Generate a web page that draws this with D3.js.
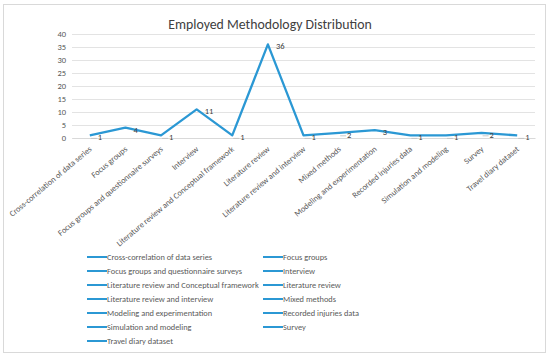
<!DOCTYPE html>
<html>
<head>
<meta charset="utf-8">
<script src="https://cdn.jsdelivr.net/npm/d3@7"></script>
<style>
  body { margin: 0; background: #fff; }
  svg { font-family: Calibri, Carlito, "Open Sans", sans-serif; }
</style>
</head>
<body>
<div id="chart"></div>
<script>
// Data
const methods = [
  "Cross-correlation of data series",
  "Focus groups",
  "Focus groups and questionnaire surveys",
  "Interview",
  "Literature review and Conceptual framework",
  "Literature review",
  "Literature review and interview",
  "Mixed methods",
  "Modeling and experimentation",
  "Recorded injuries data",
  "Simulation and modeling",
  "Survey",
  "Travel diary dataset"
];
const counts = [1, 4, 1, 11, 1, 36, 1, 2, 3, 1, 1, 2, 1];
const yTicks = [0, 5, 10, 15, 20, 25, 30, 35, 40];

const W = 550, H = 357;
const lineColor = "#2b98d4";
const textColor = "#595959";

const svg = d3.select("#chart").append("svg")
  .attr("width", W).attr("height", H);

// font size that makes the longest label about `target` px wide
function fitSize(str, target) {
  const t = svg.append("text").attr("font-size", 10).text(str);
  const len = t.node().getComputedTextLength();
  t.remove();
  return 10 * target / len;
}
const longest = methods.reduce((a, b) => a.length > b.length ? a : b);
const labelSize = fitSize(longest, 151);

// outer frame
svg.append("rect")
  .attr("x", 3.5).attr("y", 4.5).attr("width", 542).attr("height", 348)
  .attr("fill", "#fff").attr("stroke", "#d9d9d9");

// title
svg.append("text")
  .attr("x", 270).attr("y", 29)
  .attr("text-anchor", "middle")
  .attr("font-size", 13.8)
  .attr("fill", "#404040")
  .text("Employed Methodology Distribution");

// scales
const x = d3.scalePoint().domain(methods).range([72, 535]).padding(0.5);
const y = d3.scaleLinear().domain([0, 40]).range([138, 34]);

// gridlines
svg.append("g")
  .selectAll("line")
  .data(yTicks)
  .join("line")
  .attr("x1", 72).attr("x2", 535)
  .attr("y1", d => y(d) + 0.5).attr("y2", d => y(d) + 0.5)
  .attr("stroke", "#e3e3e3");

// y axis
const yAxis = svg.append("g")
  .attr("transform", "translate(72,0)")
  .call(d3.axisLeft(y).tickValues(yTicks).tickSize(0).tickPadding(6));
yAxis.select(".domain").remove();
yAxis.selectAll("text")
  .attr("font-size", 8.5)
  .attr("fill", textColor)
  .attr("font-family", "Calibri, Carlito, 'Open Sans', sans-serif");

// x axis
const xAxis = svg.append("g")
  .attr("transform", "translate(0,138)")
  .call(d3.axisBottom(x).tickSize(0).tickPadding(0));
xAxis.select(".domain").attr("stroke", "#d9d9d9");
xAxis.selectAll("text")
  .attr("font-size", labelSize)
  .attr("fill", textColor)
  .attr("font-family", "Calibri, Carlito, 'Open Sans', sans-serif")
  .style("text-anchor", "end")
  .attr("dy", 0)
  .attr("transform", "translate(2,12) rotate(-40)");

// line
const line = d3.line()
  .x((d, i) => x(methods[i]))
  .y(d => y(d));
svg.append("path")
  .datum(counts)
  .attr("d", line)
  .attr("fill", "none")
  .attr("stroke", lineColor)
  .attr("stroke-width", 2.3)
  .attr("stroke-linejoin", "round");

// leader lines for the small labels
svg.append("g")
  .selectAll("path")
  .data(counts)
  .join("path")
  .attr("d", (d, i) => {
    const px = x(methods[i]), py = y(d);
    return `M${px + 1},${py + 3}L${px + 7},${py + 3}`;
  })
  .attr("stroke", "#bfbfbf")
  .attr("stroke-width", 0.8)
  .attr("fill", "none")
  .attr("opacity", d => (d === 1 || d === 2) ? 1 : 0);

// data labels
svg.append("g")
  .selectAll("text")
  .data(counts)
  .join("text")
  .attr("x", (d, i) => x(methods[i]) + 8)
  .attr("y", d => y(d) + 5)
  .attr("font-size", 8.5)
  .attr("fill", "#404040")
  .text(d => d);

// legend
const legendX = [87, 263];
const legendY0 = 257, legendStep = 14;
const legend = svg.append("g")
  .selectAll("g")
  .data(methods)
  .join("g")
  .attr("transform", (d, i) =>
    `translate(${legendX[i % 2]},${legendY0 + Math.floor(i / 2) * legendStep})`);
legend.append("line")
  .attr("x1", 0).attr("x2", 20)
  .attr("y1", 0).attr("y2", 0)
  .attr("stroke", lineColor)
  .attr("stroke-width", 2);
legend.append("text")
  .attr("x", 20).attr("y", 3.2)
  .attr("font-size", fitSize(longest, 152))
  .attr("fill", textColor)
  .text(d => d);
</script>
</body>
</html>
